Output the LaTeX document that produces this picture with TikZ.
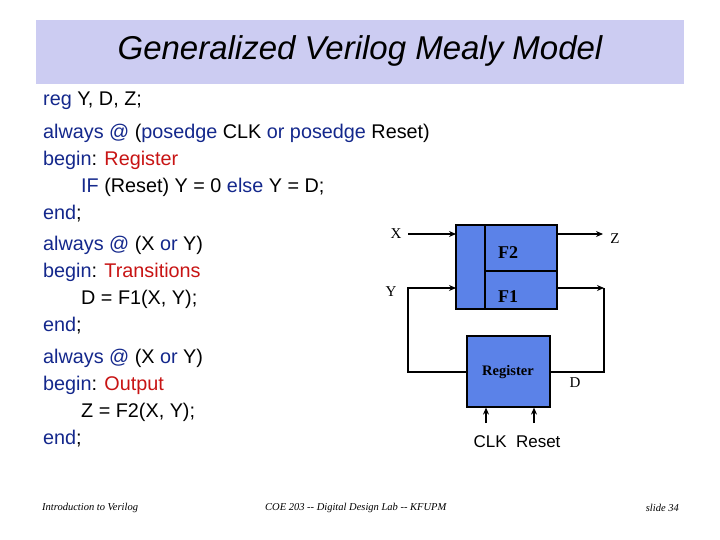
\documentclass[tikz,border=0pt]{standalone}
\usepackage{fontspec}
\setmainfont{Liberation Sans}
\newfontfamily\serif{Liberation Serif}
\usetikzlibrary{arrows.meta}
\definecolor{kw}{RGB}{20,40,140}
\definecolor{rd}{RGB}{200,20,20}
\definecolor{band}{RGB}{204,204,242}
\definecolor{blk}{RGB}{91,130,232}
\begin{document}
\begin{tikzpicture}[x=1pt,y=-1pt,
  code/.style={anchor=west,inner sep=0pt,font=\fontsize{19.8}{22}\selectfont},
  lbl/.style={inner sep=0pt,font=\serif\fontsize{15}{16}\selectfont},
  blkbox/.style={draw=black,line width=1.2pt,fill=blk},
  wire/.style={line width=1.3pt},
  arr/.style={wire,-{Stealth[length=7pt,width=6pt]}},
  foot/.style={inner sep=0pt,font=\serif\itshape\fontsize{10.5}{12}\selectfont}]
\useasboundingbox (0,0) rectangle (720,540);
\fill[white] (0,0) rectangle (720,540);
\fill[band] (36,20) rectangle (684,84);
\node[font=\itshape\fontsize{33}{36}\selectfont] (title) at (360,51) {Generalized Verilog Mealy Model};
% code
\node[code] (l1) at (43,101) {\textcolor{kw}{reg} Y, D, Z;};
\node[code] (l2) at (43,133) {\textcolor{kw}{always @} (\textcolor{kw}{posedge} CLK \textcolor{kw}{or posedge} Reset)};
\node[code] (l3) at (43,160) {\textcolor{kw}{begin}: \textcolor{rd}{Register}};
\node[code] (l4) at (81,187) {\textcolor{kw}{IF} (Reset) Y = 0 \textcolor{kw}{else} Y = D;};
\node[code] (l5) at (43,214) {\textcolor{kw}{end};};
\node[code] (l6) at (43,245) {\textcolor{kw}{always @} (X \textcolor{kw}{or} Y)};
\node[code] (l7) at (43,272) {\textcolor{kw}{begin}: \textcolor{rd}{Transitions}};
\node[code] (l8) at (81,299) {D = F1(X, Y);};
\node[code] (l9) at (43,326) {\textcolor{kw}{end};};
\node[code] (l10) at (43,358) {\textcolor{kw}{always @} (X \textcolor{kw}{or} Y)};
\node[code] (l11) at (43,385) {\textcolor{kw}{begin}: \textcolor{rd}{Output}};
\node[code] (l12) at (81,412) {Z = F2(X, Y);};
\node[code] (l13) at (43,439) {\textcolor{kw}{end};};
% blocks
\draw[blkbox] (456,225) rectangle (557,309);
\draw[line width=1.2pt] (485,225) -- (485,309) (485,271) -- (557,271);
\node[font=\serif\bfseries\fontsize{18}{20}\selectfont] (f2) at (508,253) {F2};
\node[font=\serif\bfseries\fontsize{18}{20}\selectfont] (f1) at (508,297) {F1};
\coordinate (fx) at (456,234); \coordinate (fy) at (456,288);
\coordinate (fz) at (557,234); \coordinate (fd) at (557,288);
\node[blkbox,minimum width=83pt,minimum height=71pt,inner sep=0pt] (reg) at (508.5,371.5) {};
\node[font=\serif\bfseries\fontsize{14.5}{16}\selectfont] (regt) at (508,372) {Register};
% labels
\node[lbl] (x) at (396,234) {X};
\node[lbl] (y) at (391,292) {Y};
\node[lbl] (z) at (615,239) {Z};
\node[lbl] (d) at (575,383) {D};
\node[inner sep=0pt,font=\fontsize{17}{19}\selectfont] (clk) at (517,442) {CLK\ \ Reset};
\coordinate (xs) at (408,234);
\coordinate (ze) at (603,234);
\coordinate (yc) at (408,288); \coordinate (ylow) at (408,372);
\coordinate (dc) at (604,288); \coordinate (dlow) at (604,372);
\draw[arr] (xs) -- (fx);
\draw[arr] (fz) -- (ze);
\draw[arr] (reg.west |- ylow) -- (ylow) -- (yc) -- (fy);
\draw[arr] (fd) -- (dc);
\draw[wire] (dc) -- (dlow) -- (reg.east |- dlow);
\coordinate (c1) at (486,423); \coordinate (c2) at (534,423);
\draw[arr] (c1) -- (c1 |- reg.south);
\draw[arr] (c2) -- (c2 |- reg.south);
% footer
\node[foot,anchor=west] (fa) at (42,508) {Introduction to Verilog};
\node[foot,anchor=west] (fb) at (265,508) {COE 203 -- Digital Design Lab -- KFUPM};
\node[foot,anchor=east] (fc) at (679,508) {slide 34};
\end{tikzpicture}
\end{document}
